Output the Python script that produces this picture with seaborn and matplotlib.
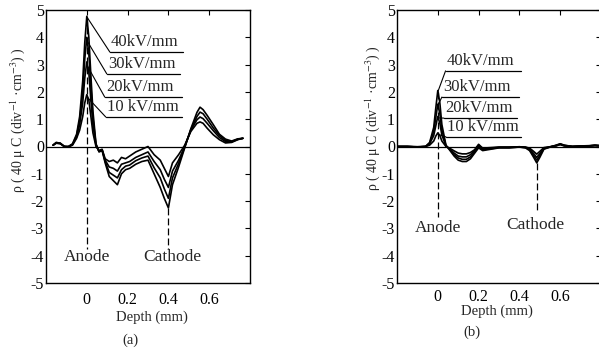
import numpy as np
import pandas as pd
import matplotlib
matplotlib.use("Agg")
import matplotlib.pyplot as plt
import seaborn as sns

# ---- data -------------------------------------------------------------
fields = ["10 kV/mm", "20kV/mm", "30kV/mm", "40kV/mm"]

# (a) charge profiles
depth_a = [-0.165, -0.15, -0.13, -0.11, -0.09, -0.07, -0.05, -0.035, -0.02, -0.01,
           0.0, 0.01, 0.02, 0.03, 0.045, 0.06, 0.075, 0.09, 0.11, 0.13,
           0.15, 0.17, 0.19, 0.21, 0.24, 0.27, 0.30, 0.33, 0.36, 0.38,
           0.40, 0.42, 0.45, 0.48, 0.51, 0.54, 0.555, 0.57, 0.59, 0.62,
           0.65, 0.68, 0.71, 0.74, 0.765]
rho_a_10 = [0.05, 0.12, 0.10, 0.0, -0.02, 0.05, 0.30, 0.60, 1.10, 1.60,
            1.90, 1.70, 1.10, 0.50, 0.0, -0.15, -0.10, -0.45, -0.55, -0.50,
            -0.60, -0.40, -0.45, -0.35, -0.20, -0.10, 0.0, -0.30, -0.50, -0.80,
            -1.10, -0.60, -0.30, 0.05, 0.55, 0.85, 0.90, 0.85, 0.67, 0.43,
            0.25, 0.13, 0.15, 0.25, 0.30]
rho_a_20 = [0.05, 0.13, 0.11, 0.0, -0.01, 0.07, 0.35, 0.80, 1.60, 2.50,
            3.10, 2.70, 1.70, 0.80, 0.05, -0.17, -0.12, -0.50, -0.75, -0.80,
            -0.90, -0.65, -0.60, -0.55, -0.40, -0.30, -0.20, -0.55, -0.85, -1.20,
            -1.50, -0.90, -0.50, 0.0, 0.60, 0.98, 1.08, 1.02, 0.85, 0.58,
            0.33, 0.18, 0.17, 0.26, 0.30]
rho_a_30 = [0.05, 0.14, 0.12, 0.0, 0.0, 0.08, 0.40, 0.95, 2.00, 3.20,
            4.00, 3.40, 2.20, 1.05, 0.08, -0.18, -0.13, -0.55, -0.95, -1.05,
            -1.15, -0.85, -0.72, -0.68, -0.52, -0.42, -0.35, -0.78, -1.15, -1.55,
            -1.90, -1.15, -0.62, -0.02, 0.62, 1.10, 1.26, 1.20, 1.00, 0.68,
            0.40, 0.22, 0.18, 0.27, 0.30]
rho_a_40 = [0.05, 0.15, 0.12, 0.0, 0.0, 0.10, 0.45, 1.10, 2.40, 3.80,
            4.77, 4.00, 2.60, 1.30, 0.10, -0.20, -0.15, -0.60, -1.10, -1.25,
            -1.40, -1.00, -0.85, -0.80, -0.65, -0.55, -0.50, -1.00, -1.50, -1.90,
            -2.25, -1.40, -0.75, -0.05, 0.65, 1.25, 1.44, 1.35, 1.14, 0.80,
            0.45, 0.27, 0.20, 0.28, 0.30]

# (b) charge profiles
depth_b = [-0.2, -0.15, -0.1, -0.06, -0.04, -0.02, -0.01, 0.0, 0.01, 0.02,
           0.04, 0.06, 0.08, 0.1, 0.12, 0.14, 0.16, 0.18, 0.2, 0.22,
           0.26, 0.3, 0.35, 0.4, 0.43, 0.45, 0.47, 0.485, 0.5, 0.52,
           0.55, 0.58, 0.6, 0.62, 0.66, 0.7, 0.74, 0.77, 0.8]
rho_b_10 = [0.0, 0.0, -0.01, 0.0, 0.05, 0.20, 0.38, 0.50, 0.40, 0.20,
            0.0, -0.07, -0.16, -0.24, -0.27, -0.27, -0.22, -0.12, 0.08, -0.06,
            -0.04, -0.02, -0.02, -0.01, -0.02, -0.06, -0.18, -0.28, -0.18, -0.04,
            -0.01, 0.02, 0.07, 0.02, 0.0, 0.01, 0.01, 0.03, 0.02]
rho_b_20 = [0.0, 0.0, -0.01, 0.0, 0.10, 0.40, 0.75, 1.10, 0.85, 0.42,
            0.02, -0.10, -0.24, -0.35, -0.38, -0.38, -0.30, -0.16, 0.05, -0.10,
            -0.06, -0.03, -0.03, -0.01, -0.03, -0.09, -0.26, -0.40, -0.26, -0.06,
            -0.01, 0.03, 0.08, 0.03, 0.0, 0.01, 0.02, 0.04, 0.02]
rho_b_30 = [0.0, 0.0, -0.02, 0.0, 0.12, 0.55, 1.05, 1.55, 1.20, 0.60,
            0.03, -0.12, -0.30, -0.42, -0.47, -0.47, -0.38, -0.20, 0.02, -0.12,
            -0.08, -0.04, -0.04, -0.02, -0.04, -0.12, -0.33, -0.50, -0.33, -0.08,
            -0.02, 0.04, 0.09, 0.04, 0.0, 0.02, 0.02, 0.04, 0.03]
rho_b_40 = [0.0, 0.0, -0.02, 0.0, 0.15, 0.70, 1.40, 2.05, 1.60, 0.80,
            0.05, -0.15, -0.35, -0.50, -0.55, -0.55, -0.45, -0.25, -0.05, -0.15,
            -0.10, -0.05, -0.05, -0.02, -0.05, -0.15, -0.40, -0.60, -0.40, -0.10,
            -0.02, 0.05, 0.10, 0.05, 0.0, 0.02, 0.03, 0.05, 0.03]

x_ticks = [0, 0.2, 0.4, 0.6]
x_tick_labels = ["0", "0.2", "0.4", "0.6"]
y_ticks = [5, 4, 3, 2, 1, 0, -1, -2, -3, -4, -5]


def long_form(depth, series):
    frames = []
    for name, vals in zip(fields, series):
        frames.append(pd.DataFrame({"depth": depth, "rho": vals, "field": name}))
    return pd.concat(frames, ignore_index=True)


df_a = long_form(depth_a, [rho_a_10, rho_a_20, rho_a_30, rho_a_40])
df_b = long_form(depth_b, [rho_b_10, rho_b_20, rho_b_30, rho_b_40])

# ---- style ------------------------------------------------------------
sns.set_style("white")
plt.rcParams["font.family"] = ["Liberation Serif", "DejaVu Serif"]
plt.rcParams["mathtext.fontset"] = "stix"
plt.rcParams["axes.unicode_minus"] = False

W, H = 599, 351
fig = plt.figure(figsize=(W / 100, H / 100), dpi=100)


def px_axes(x0, x1, ytop, ybot):
    return fig.add_axes([x0 / W, 1 - ybot / H, (x1 - x0) / W, (ybot - ytop) / H])


ax_a = px_axes(46, 250, 10, 283)
ax_b = px_axes(397, 601, 10, 283)

ylabel = "ρ ( 40 μ C (div$^{-1}$ ·cm$^{-3}$) )"


def style_axes(ax, xpad, xlab_pos, ylab_x, ylab_y):
    ax.set_xlim(-0.2, 0.8)
    ax.set_ylim(-5, 5)
    ax.set_xticks(x_ticks)
    ax.set_xticklabels(x_tick_labels)
    ax.set_yticks(y_ticks)
    ax.set_yticklabels([str(v) for v in y_ticks])
    ax.tick_params(axis="both", direction="in", length=3.5, width=0.8,
                   top=True, right=True, labelsize=11.5, color="black",
                   labelcolor="black")
    ax.tick_params(axis="x", pad=xpad)
    ax.tick_params(axis="y", pad=1.5)
    for sp in ax.spines.values():
        sp.set_visible(True)
        sp.set_color("black")
        sp.set_linewidth(1.0)
    ax.axhline(0, color="black", lw=0.9, zorder=1)
    ax.set_xlabel("Depth (mm)", fontsize=10.5)
    ax.xaxis.set_label_coords(*xlab_pos)
    ax.xaxis.label.set_va("center")
    ax.set_ylabel(ylabel, fontsize=10)
    ax.yaxis.set_label_coords(ylab_x, ylab_y)
    ax.yaxis.label.set_va("center")
    ax.grid(False)


def draw_curves(ax, df):
    sns.lineplot(data=df, x="depth", y="rho", hue="field",
                 palette=["black"] * len(fields), estimator=None,
                 legend=False, lw=1.2, ax=ax, zorder=3)


def field_labels(ax, entries, fs=12):
    # entries: (label, start_x, start_y, line_x0, line_x1, line_y)
    for text, px, py, x0, x1, yl in entries:
        ax.plot([px, x0], [py, yl], color="black", lw=0.8, zorder=4)
        ax.plot([x0, x1], [yl, yl], color="black", lw=0.9, zorder=4)
        ax.text(x0 + 0.005, yl + 0.06, text, fontsize=fs, ha="left",
                va="bottom", zorder=5)


dash = (0, (5.5, 2.5))

# (a)
draw_curves(ax_a, df_a)
style_axes(ax_a, 6.5, (0.52, -0.125), -0.14, 0.597)
ax_a.plot([0, 0], [4.75, -3.75], color="black", lw=0.9, ls=dash, zorder=2)
ax_a.plot([0.40, 0.40], [-2.25, -3.75], color="black", lw=0.9, ls=dash, zorder=2)
ax_a.text(0.0, -4.05, "Anode", fontsize=12.5, ha="center", va="center")
ax_a.text(0.42, -4.05, "Cathode", fontsize=12.5, ha="center", va="center")
field_labels(ax_a, [
    ("40kV/mm", 0.0, 4.75, 0.113, 0.47, 3.46),
    ("30kV/mm", 0.003, 3.85, 0.098, 0.456, 2.66),
    ("20kV/mm", 0.003, 2.95, 0.088, 0.466, 1.81),
    ("10 kV/mm", 0.003, 1.8, 0.093, 0.466, 1.08),
])

# (b)
draw_curves(ax_b, df_b)
style_axes(ax_b, 4.5, (0.49, -0.105), -0.122, 0.604)
ax_b.plot([0, 0], [2.0, -2.6], color="black", lw=0.9, ls=dash, zorder=2)
ax_b.plot([0.485, 0.485], [-0.6, -2.35], color="black", lw=0.9, ls=dash, zorder=2)
ax_b.text(0.0, -3.0, "Anode", fontsize=12.5, ha="center", va="center")
ax_b.text(0.48, -2.88, "Cathode", fontsize=12.5, ha="center", va="center")
field_labels(ax_b, [
    ("40kV/mm", 0.0, 2.0, 0.038, 0.41, 2.77),
    ("30kV/mm", 0.0, 1.5, 0.02, 0.40, 1.81),
    ("20kV/mm", 0.0, 1.05, 0.03, 0.39, 1.04),
    ("10 kV/mm", 0.0, 0.45, 0.04, 0.41, 0.35),
])

fig.text(130 / W, 1 - 340 / H, "(a)", fontsize=10.5, ha="center", va="center")
fig.text(472 / W, 1 - 332 / H, "(b)", fontsize=10.5, ha="center", va="center")

fig.savefig("out.png", dpi=100)
